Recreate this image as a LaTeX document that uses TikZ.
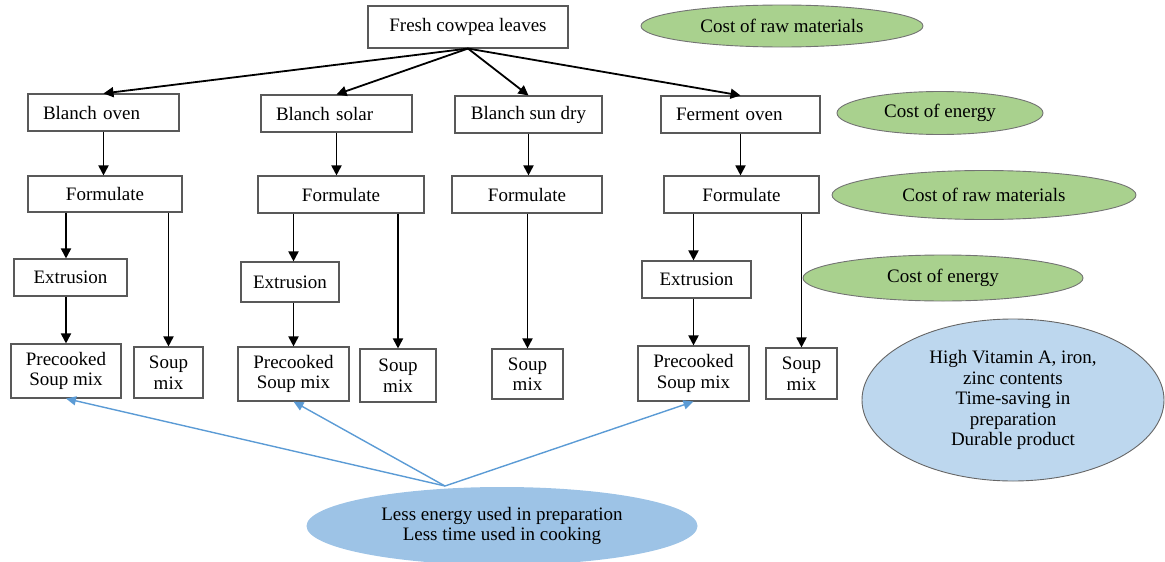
\documentclass[tikz,border=0pt]{standalone}
\usepackage{fontspec}
\setmainfont{Liberation Serif}
\usetikzlibrary{shapes.geometric,arrows.meta,calc}
\definecolor{costgreen}{HTML}{A9D18E}
\definecolor{lightblue}{HTML}{BDD7EE}
\definecolor{midblue}{HTML}{9DC3E6}
\definecolor{arrowblue}{HTML}{5B9BD5}
\begin{document}
\begin{tikzpicture}[x=1pt,y=-1pt,
  txt/.style={font=\fontsize{19}{20.5}\selectfont},
  box/.style={txt, draw=black!65, line width=1.1pt, fill=white, inner sep=0pt, align=center},
  lbox/.style={box, align=left, inner xsep=15pt},
  costell/.style={txt, ellipse, draw=black!55, line width=0.9pt, fill=costgreen, inner sep=0pt, align=center},
  benefit/.style={txt, ellipse, draw=black!60, line width=0.9pt, fill=lightblue, inner sep=0pt, align=center},
  lessell/.style={txt, ellipse, draw=none, fill=midblue, inner sep=0pt, align=center},
  arr/.style={line width=1.8pt, -{Triangle[length=10pt,width=10pt]}},
  barr/.style={draw=arrowblue, line width=1.4pt, -{Triangle[length=10pt,width=9pt]}}]
\useasboundingbox (0,0) rectangle (1165,562);

% top node
\node[box, minimum width=200pt, minimum height=42pt] (top) at (468,27) {Fresh cowpea leaves};

% row 1
\node[lbox, text width=121pt, minimum height=37pt] (bo) at (103.5,112.5) {Blanch oven};
\node[lbox, text width=121pt, minimum height=37pt] (bs) at (336.5,113.5) {Blanch solar};
\node[box, minimum width=147pt, minimum height=37pt] (bd) at (528.5,114.5) {Blanch sun dry};
\node[lbox, text width=129pt, minimum height=37pt] (fo) at (740.5,114.5) {Ferment oven};

% row 2
\node[box, minimum width=154pt, minimum height=36pt] (f1) at (105,194) {Formulate};
\node[box, minimum width=166pt, minimum height=37pt] (f2) at (341,194.5) {Formulate};
\node[box, minimum width=150pt, minimum height=37pt] (f3) at (527,194.5) {Formulate};
\node[box, minimum width=155pt, minimum height=37pt] (f4) at (741.5,194.5) {Formulate};

% row 3
\node[box, minimum width=113pt, minimum height=37pt] (e1) at (70.5,277.5) {Extrusion};
\node[box, minimum width=98pt, minimum height=40pt] (e2) at (290,282) {Extrusion};
\node[box, minimum width=109pt, minimum height=37pt] (e3) at (696.5,279.5) {Extrusion};

% row 4
\node[box, minimum width=110pt, minimum height=54pt] (p1) at (66,371) {Precooked\\Soup mix};
\node[box, minimum width=69pt, minimum height=51pt] (s1) at (168.5,372.5) {Soup\\mix};
\node[box, minimum width=111pt, minimum height=54pt] (p2) at (293.5,374) {Precooked\\Soup mix};
\node[box, minimum width=76pt, minimum height=53pt] (s2) at (398,375.5) {Soup\\mix};
\node[box, minimum width=71pt, minimum height=50pt] (s3) at (527.5,374) {Soup\\mix};
\node[box, minimum width=111pt, minimum height=55pt] (p3) at (693.5,373.5) {Precooked\\Soup mix};
\node[box, minimum width=71pt, minimum height=51pt] (s4) at (801.5,373.5) {Soup\\mix};

% cost ellipses
\node[costell, minimum width=282pt, minimum height=42pt] (c1) at (782,26) {Cost of raw materials};
\node[costell, minimum width=206pt, minimum height=43pt] (c2) at (940,113) {Cost of energy};
\node[costell, minimum width=304pt, minimum height=49pt] (c3) at (984,195) {Cost of raw materials};
\node[costell, minimum width=280pt, minimum height=46pt] (c4) at (943,278) {Cost of energy};

% benefit ellipses
\node[benefit, minimum width=302pt, minimum height=162pt] (ben) at (1013,400) {High Vitamin A, iron,\\zinc contents\\Time-saving in\\preparation\\Durable product};
\node[lessell, minimum width=391pt, minimum height=78pt] (less) at (502,526) {Less energy used in preparation\\Less time used in cooking};

% arrows from top
\draw[arr] (top.south) -- (bo.north);
\draw[arr] (top.south) -- (bs.north);
\draw[arr] (top.south) -- (bd.north);
\draw[arr] (top.south) -- (fo.north);

% blanch -> formulate
\draw[arr] (bo.south) -- (bo.south |- f1.north);
\draw[arr] (bs.south) -- (bs.south |- f2.north);
\draw[arr] (bd.south) -- (bd.south |- f3.north);
\draw[arr] (fo.south) -- (fo.south |- f4.north);

% formulate -> extrusion -> precooked
\draw[arr] (f1.south -| p1) -- (e1.north -| p1);
\draw[arr] (e1.south -| p1) -- (p1.north);
\draw[arr] (f2.south -| p2) -- (e2.north -| p2);
\draw[arr] (e2.south -| p2) -- (p2.north);
\draw[arr] (f4.south -| p3) -- (e3.north -| p3);
\draw[arr] (e3.south -| p3) -- (p3.north);

% formulate -> soup mix
\draw[arr] (f1.south -| s1) -- (s1.north);
\draw[arr] (f2.south -| s2) -- (s2.north);
\draw[arr] (f3.south -| s3) -- (s3.north);
\draw[arr] (f4.south -| s4) -- (s4.north);

% blue arrows
\coordinate (apex) at (445,486);
\draw[barr] (apex) -- (p1.south);
\draw[barr] (apex) -- (p2.south);
\draw[barr] (apex) -- (p3.south);
\end{tikzpicture}
\end{document}
